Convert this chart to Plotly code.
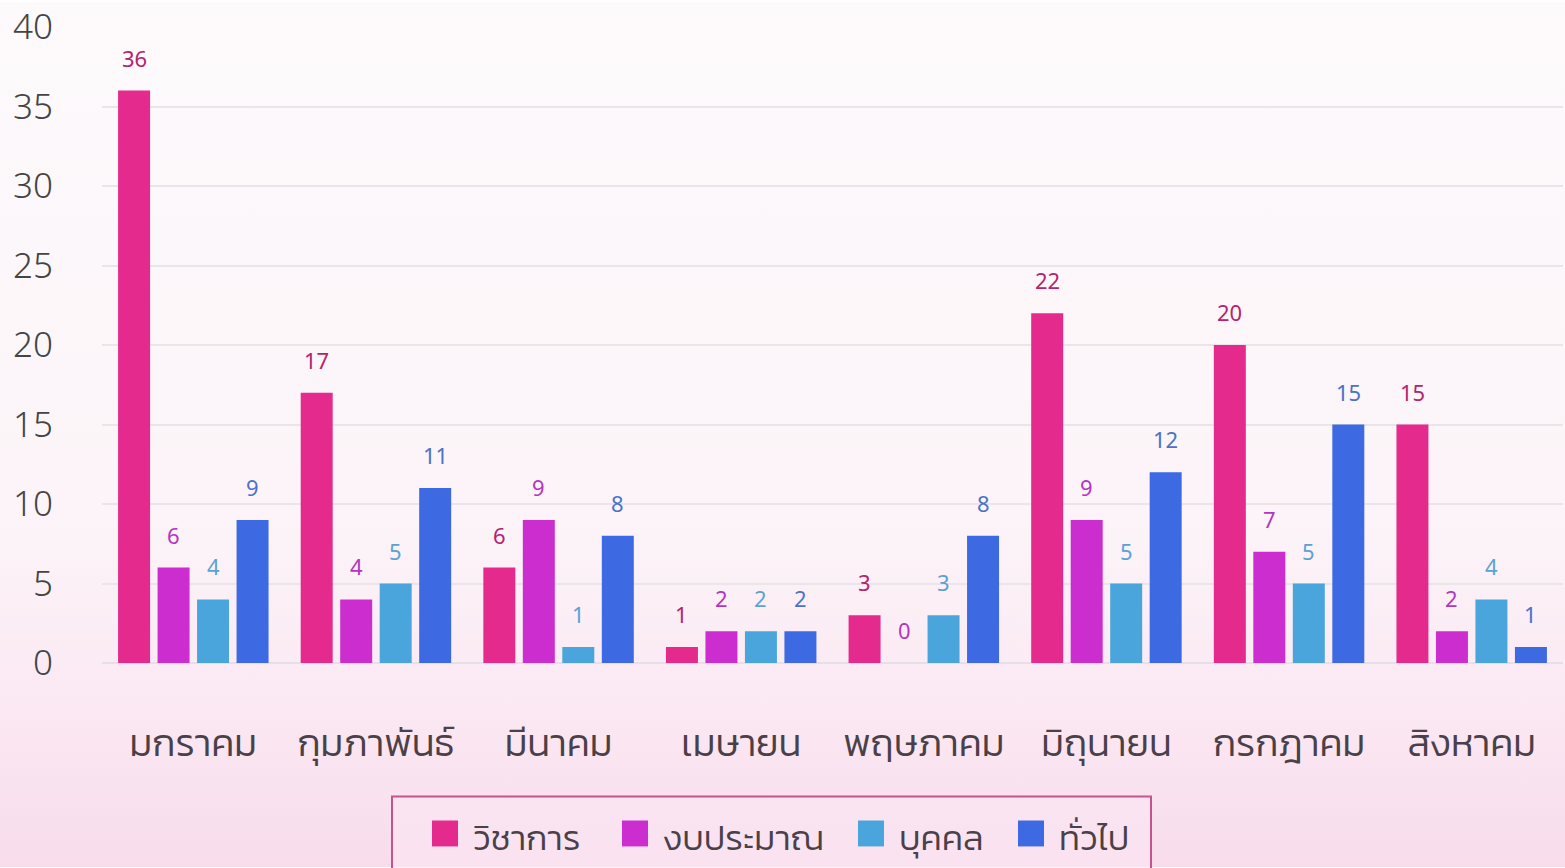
import base64
import plotly.graph_objects as go

months = ["มกราคม", "กุมภาพันธ์", "มีนาคม", "เมษายน", "พฤษภาคม", "มิถุนายน", "กรกฎาคม", "สิงหาคม"]
series_names = ["วิชาการ", "งบประมาณ", "บุคคล", "ทั่วไป"]
academic = [36, 17, 6, 1, 3, 22, 20, 15]
budget = [6, 4, 9, 2, 0, 9, 7, 2]
personnel = [4, 5, 1, 2, 3, 5, 5, 4]
general = [9, 11, 8, 2, 8, 12, 15, 1]
y_ticks = [0, 5, 10, 15, 20, 25, 30, 35, 40]

series_values = [academic, budget, personnel, general]
bar_colors = ["#e42a8c", "#cb2dcf", "#4aa5dc", "#3d69e2"]
label_colors = ["#b3246f", "#b236c0", "#5aa2d6", "#4b72c9"]

THAI = "Kanit, 'Noto Sans Thai', Loma, Garuda, 'Noto Sans', sans-serif"
NUM = "'Noto Sans', 'Open Sans', sans-serif"
TEXT_COL = "#4a4048"

BARGAP = 0.135
BARGROUPGAP = 0.19

W, H = 1565, 868
ML, MR, MT, MB = 102, 2, 25, 205
pw, ph = W - ML - MR, H - MT - MB


def px_x(p):
    return (p - ML) / pw


def px_y(p):
    return 1 - (p - MT) / ph


fig = go.Figure()
for name, vals, col in zip(series_names, series_values, bar_colors):
    fig.add_trace(go.Bar(
        x=months, y=vals, name=name, showlegend=False,
        marker=dict(color=col, line=dict(width=0)),
    ))

# data labels as annotations, placed from bar geometry
n = len(series_values)
slot = (1 - BARGAP) / n
for si, (vals, lc) in enumerate(zip(series_values, label_colors)):
    off = (si - (n - 1) / 2) * slot
    for ci, v in enumerate(vals):
        fig.add_annotation(
            x=ci + off, y=v, xref="x", yref="y", text=str(v),
            showarrow=False, yanchor="bottom", yshift=16,
            font=dict(family=NUM, size=22, color=lc),
        )

# background gradient
svg = ('<svg xmlns="http://www.w3.org/2000/svg" width="100" height="100" preserveAspectRatio="none">'
       '<defs><linearGradient id="g" x1="0" y1="0" x2="0" y2="1">'
       '<stop offset="0" stop-color="#fdfafc"/>'
       '<stop offset="0.6" stop-color="#fcf4f8"/>'
       '<stop offset="0.8" stop-color="#fbe9f3"/>'
       '<stop offset="1" stop-color="#f8dcec"/>'
       '</linearGradient></defs>'
       '<rect width="100" height="100" fill="url(#g)"/></svg>')
src = "data:image/svg+xml;base64," + base64.b64encode(svg.encode()).decode()
fig.add_layout_image(dict(
    source=src, xref="paper", yref="paper",
    x=-ML / pw, y=1 + MT / ph, sizex=W / pw, sizey=H / ph,
    xanchor="left", yanchor="top", sizing="stretch", layer="below",
))

# custom legend (box, swatches, labels)
LEG_BOX = (392, 797, 1151, 880)
LEG_SWATCH_X = [432, 622, 858, 1018]
SW = 26
LEG_CY = 834
fig.add_shape(type="rect", xref="paper", yref="paper",
              x0=px_x(LEG_BOX[0]), x1=px_x(LEG_BOX[2]),
              y0=px_y(LEG_BOX[3]), y1=px_y(LEG_BOX[1]),
              line=dict(color="#c4548e", width=2),
              fillcolor="rgba(251,232,243,0.5)", layer="below")
for name, col, sx in zip(series_names, bar_colors, LEG_SWATCH_X):
    fig.add_shape(type="rect", xref="paper", yref="paper",
                  x0=px_x(sx), x1=px_x(sx + SW),
                  y0=px_y(LEG_CY + SW / 2), y1=px_y(LEG_CY - SW / 2),
                  line=dict(width=0), fillcolor=col)
    fig.add_annotation(x=px_x(sx + SW + 13), y=px_y(LEG_CY + 4), xref="paper", yref="paper",
                       text=name, showarrow=False, xanchor="left", yanchor="middle",
                       font=dict(family=THAI, size=35, color=TEXT_COL, weight=300))

fig.update_layout(
    width=W, height=H,
    margin=dict(l=ML, r=MR, t=MT, b=MB),
    paper_bgcolor="rgba(0,0,0,0)", plot_bgcolor="rgba(0,0,0,0)",
    barmode="group", bargap=BARGAP, bargroupgap=BARGROUPGAP,
    showlegend=False,
    xaxis=dict(
        showgrid=False, showline=False, zeroline=False,
        tickfont=dict(family=THAI, size=38, color=TEXT_COL, weight=300),
        ticklabelstandoff=54,
    ),
    yaxis=dict(
        range=[0, 40], tickvals=y_ticks,
        showgrid=True, gridcolor="#e9e5ea", gridwidth=1.5,
        zeroline=True, zerolinecolor="#e4e0e6", zerolinewidth=1.5,
        showline=False,
        tickfont=dict(family=NUM, size=35, color="#444444", weight=300),
        ticklabelstandoff=48,
    ),
)

fig.write_html("out.html", config={"displayModeBar": False},
               post_script="document.body.style.margin='0';")
